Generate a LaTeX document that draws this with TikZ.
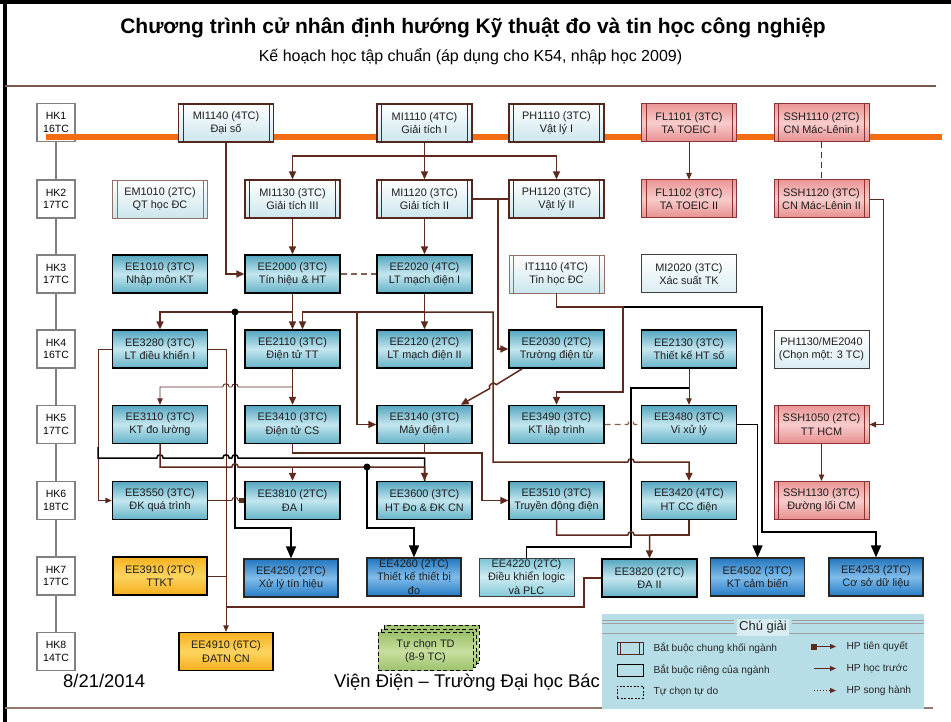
\documentclass[tikz,border=0pt]{standalone}
\usepackage{fontspec}
\setmainfont{Liberation Sans}
\usetikzlibrary{arrows.meta}

\definecolor{conn}{RGB}{94,42,30}
\definecolor{cmnbrd}{RGB}{84,38,28}
\definecolor{cmnlow}{RGB}{204,230,238}
\definecolor{pinkbrd}{RGB}{140,52,52}
\definecolor{pinktop}{RGB}{236,150,150}
\definecolor{pinkmid}{RGB}{248,204,204}
\definecolor{pinkbot}{RGB}{232,142,142}
\definecolor{tealtop}{RGB}{84,166,192}
\definecolor{tealmid}{RGB}{196,230,239}
\definecolor{tealbot}{RGB}{100,178,200}
\definecolor{bluetop}{RGB}{34,118,190}
\definecolor{bluemid}{RGB}{128,188,234}
\definecolor{bluebot}{RGB}{38,124,198}
\definecolor{plctop}{RGB}{122,196,213}
\definecolor{plcmid}{RGB}{208,236,243}
\definecolor{plcbot}{RGB}{132,202,217}
\definecolor{yeltop}{RGB}{247,178,32}
\definecolor{yelmid}{RGB}{252,212,96}
\definecolor{yelbot}{RGB}{246,174,28}
\definecolor{grntop}{RGB}{158,194,108}
\definecolor{grnmid}{RGB}{200,223,160}
\definecolor{legbg}{RGB}{183,222,231}
\definecolor{hkgray}{RGB}{128,128,128}
\definecolor{rulebrown}{RGB}{120,88,78}
\definecolor{sem}{RGB}{242,108,20}

% small bridge where a horizontal line crosses another one
\newcommand\hopR[2]{-- (#1-3.2,#2) to[out=90,in=90,looseness=1.7] (#1+3.2,#2)}
\newcommand\hopL[2]{-- (#1+3.2,#2) to[out=90,in=90,looseness=1.7] (#1-3.2,#2)}

\tikzset{
  course/.style={minimum width=95pt, minimum height=38pt, inner sep=0pt, align=center,
    font=\fontsize{10.9}{13.3}\selectfont, text={black!88}},
  dbl/.style={path picture={
      \draw[#1, line width=0.9pt]
        ([xshift=4.5pt]path picture bounding box.north west) -- ([xshift=4.5pt]path picture bounding box.south west)
        ([xshift=-4.5pt]path picture bounding box.north east) -- ([xshift=-4.5pt]path picture bounding box.south east);}},
  dblsmall/.style={path picture={
      \draw[#1, line width=0.8pt]
        ([xshift=3.2pt]path picture bounding box.north west) -- ([xshift=3.2pt]path picture bounding box.south west)
        ([xshift=-3.2pt]path picture bounding box.north east) -- ([xshift=-3.2pt]path picture bounding box.south east);}},
  common/.style={course, draw=cmnbrd, line width=1.4pt, top color=white, bottom color=cmnlow, dbl=cmnbrd},
  commonlt/.style={course, draw=cmnbrd!65, line width=0.8pt, top color=white, bottom color=cmnlow, dbl=cmnbrd!65},
  social/.style={course, draw=pinkbrd, line width=1pt, top color=pinktop, bottom color=pinkbot, middle color=pinkmid, dbl=pinkbrd},
  major/.style={course, draw=black, line width=1.4pt, top color=tealtop, bottom color=tealbot, middle color=tealmid},
  plainc/.style={course, draw=black!75, line width=1pt, top color=white, bottom color=cmnlow!70},
  adv/.style={course, minimum width=94pt, draw=black!85, line width=1.2pt, top color=bluetop, bottom color=bluebot, middle color=bluemid},
  plc/.style={course, draw=black!75, line width=1pt, top color=plctop, bottom color=plcbot, middle color=plcmid},
  yel/.style={course, minimum width=94pt, draw=black, line width=1.4pt, top color=yeltop, bottom color=yelbot, middle color=yelmid},
  elect/.style={course, draw=black, line width=1pt, dash pattern=on 4pt off 2.5pt, top color=grntop, bottom color=grntop, middle color=grnmid},
  hk/.style={draw=hkgray, line width=1.2pt, fill=white, minimum width=38pt, minimum height=38pt, inner sep=0pt,
    align=center, font=\fontsize{10.5}{12.5}\selectfont},
  cb/.style={draw=conn, line width=1.5pt},
  ct/.style={draw=conn, line width=0.9pt},
  cdash/.style={draw=conn!75, line width=1.2pt, dash pattern=on 6pt off 4pt},
  ar/.style={-{Triangle[length=8pt,width=7pt]}},
  art/.style={-{Triangle[length=6.5pt,width=5.5pt]}},
  bk/.style={draw=black, line width=1.5pt},
  bkar/.style={-{Triangle[length=12pt,width=10pt]}},
  legtext/.style={anchor=west, font=\fontsize{10.2}{12}\selectfont, text=black!85},
}

\begin{document}
\begin{tikzpicture}[x=1pt,y=-1pt]
\useasboundingbox (0,0) rectangle (951,722);
\fill[white] (0,0) rectangle (951,722);

% slide frame
\fill[black] (3,0) rectangle (7,722);
\fill[black] (0,0) rectangle (951,4);

% heading
\node[font=\bfseries\fontsize{21}{24}\selectfont] (title) at (473,28)
  {Chương trình cử nhân định hướng Kỹ thuật đo và tin học công nghiệp};
\node[font=\fontsize{16}{18}\selectfont] (subtitle) at (470.5,57)
  {Kế hoạch học tập chuẩn (áp dụng cho K54, nhập học 2009)};
\draw[rulebrown, line width=1.3pt] (5,86) -- (936,86);

% footer
\node[anchor=base west, font=\fontsize{18.4}{20}\selectfont, inner sep=0pt] (date) at (63,687) {8/21/2014};
\node[anchor=base west, font=\fontsize{18.4}{20}\selectfont, inner sep=0pt] (inst) at (334,687)
  {Viện Điện – Trường Đại học Bác};
\draw[rulebrown!80, line width=1.2pt] (5,708) -- (933,708);

% semester column
\node[hk] (hk1) at (56,122.5) {HK1\\16TC};
\node[hk] (hk2) at (56,199) {HK2\\17TC};
\node[hk] (hk3) at (56,274) {HK3\\17TC};
\node[hk] (hk4) at (56,349) {HK4\\16TC};
\node[hk] (hk5) at (56,424.5) {HK5\\17TC};
\node[hk] (hk6) at (56,500.5) {HK6\\18TC};
\node[hk] (hk7) at (56,576) {HK7\\17TC};
\node[hk] (hk8) at (56,651.5) {HK8\\14TC};
\draw[hkgray, line width=1.3pt] (hk1.south) -- (hk2.north) (hk2.south) -- (hk3.north) (hk3.south) -- (hk4.north)
  (hk4.south) -- (hk5.north) (hk5.south) -- (hk6.north) (hk6.south) -- (hk7.north) (hk7.south) -- (hk8.north);

% first-semester band
\draw[sem, line width=5.6pt] (46,137) -- (942,137);

% HK1
\node[common] (mi1140) at (226,123) {MI1140 (4TC)\\Đại số};
\node[common] (mi1110) at (424.5,123) {MI1110 (4TC)\\Giải tích I};
\node[common] (ph1110) at (556.5,123) {PH1110 (3TC)\\Vật lý I};
\node[social] (fl1101) at (689,123) {FL1101 (3TC)\\TA TOEIC I};
\node[social] (ssh1110) at (821.5,123) {SSH1110 (2TC)\\CN Mác-Lênin I};
% HK2
\node[commonlt] (em1010) at (160,199) {EM1010 (2TC)\\QT học ĐC};
\node[common] (mi1130) at (292.5,199) {MI1130 (3TC)\\Giải tích III};
\node[common] (mi1120) at (424.5,199) {MI1120 (3TC)\\Giải tích II};
\node[common] (ph1120) at (556.5,199) {PH1120 (3TC)\\Vật lý II};
\node[social] (fl1102) at (689,199) {FL1102 (3TC)\\TA TOEIC II};
\node[social] (ssh1120) at (821.5,199) {SSH1120 (3TC)\\CN Mác-Lênin II};
% HK3
\node[major] (ee1010) at (160,274) {EE1010 (3TC)\\Nhập môn KT};
\node[major] (ee2000) at (292.5,274) {EE2000 (3TC)\\Tín hiệu \& HT};
\node[major] (ee2020) at (424.5,274) {EE2020 (4TC)\\LT mạch điện I};
\node[commonlt] (it1110) at (556.5,274) {IT1110 (4TC)\\Tin học ĐC};
\node[plainc] (mi2020) at (689,274) {MI2020 (3TC)\\Xác suất TK};
% HK4
\node[major] (ee3280) at (160,349) {EE3280 (3TC)\\LT điều khiển I};
\node[major] (ee2110) at (292.5,349) {EE2110 (3TC)\\Điện tử TT};
\node[major] (ee2120) at (424.5,349) {EE2120 (2TC)\\LT mạch điện II};
\node[major] (ee2030) at (556.5,349) {EE2030 (2TC)\\Trường điện từ};
\node[major] (ee2130) at (689,349) {EE2130 (3TC)\\Thiết kế HT số};
\node[plainc] (ph1130) at (821.5,349) {PH1130/ME2040\\(Chọn một: 3 TC)};
% HK5
\node[major] (ee3110) at (160,424.5) {EE3110 (3TC)\\KT đo lường};
\node[major] (ee3410) at (292.5,424.5) {EE3410 (3TC)\\Điện tử CS};
\node[major] (ee3140) at (424.5,424.5) {EE3140 (3TC)\\Máy điện I};
\node[major] (ee3490) at (556.5,424.5) {EE3490 (3TC)\\KT lập trình};
\node[major] (ee3480) at (689,424.5) {EE3480 (3TC)\\Vi xử lý};
\node[social] (ssh1050) at (821.5,424.5) {SSH1050 (2TC)\\TT HCM};
% HK6
\node[major] (ee3550) at (160,500.5) {EE3550 (3TC)\\ĐK quá trình};
\node[major] (ee3810) at (292.5,500.5) {EE3810 (2TC)\\ĐA I};
\node[major] (ee3600) at (424.5,500.5) {EE3600 (3TC)\\HT Đo \& ĐK CN};
\node[major] (ee3510) at (556.5,500.5) {EE3510 (3TC)\\Truyền động điện};
\node[major] (ee3420) at (689,500.5) {EE3420 (4TC)\\HT CC điện};
\node[social] (ssh1130) at (821.5,500.5) {SSH1130 (3TC)\\Đường lối CM};
% HK7
\node[yel] (ee3910) at (160,576) {EE3910 (2TC)\\TTKT};
\node[adv] (ee4250) at (291,578) {EE4250 (2TC)\\Xử lý tín hiệu};
\node[adv] (ee4260) at (414,577) {EE4260 (2TC)\\Thiết kế thiết bị\\đo};
\node[plc] (ee4220) at (526.5,577) {EE4220 (2TC)\\Điều khiển logic\\và PLC};
\node[major] (ee3820) at (649.5,578) {EE3820 (2TC)\\ĐA II};
\node[adv] (ee4502) at (757.5,577) {EE4502 (3TC)\\KT cảm biến};
\node[adv] (ee4253) at (876,577) {EE4253 (2TC)\\Cơ sở dữ liệu};
% HK8
\node[yel] (ee4910) at (226,651.5) {EE4910 (6TC)\\ĐATN CN};
\node[elect] (el3) at (431.5,644.5) {};
\node[elect] (el2) at (428.5,648) {};
\node[elect] (el1) at (425.5,651.5) {Tự chọn TD\\(8-9 TC)};

% ---- connectors ----
\coordinate (jMI) at (424.5,156);
\draw[cb, ar] (mi1140.south) |- (ee2000.west);
\draw[cb, ar] (mi1110) -- (mi1120);
\draw[cb, ar] (jMI) -| (mi1130.north);
\draw[cb, ar] (jMI) -| (ph1120.north);
\draw[cb] (mi1120.east) -- (ph1120.west);
\coordinate (jPH) at (498,199);
\draw[cb, ar] (jPH) |- (ee2030.west);
\draw[cb, ar] (mi1130) -- (ee2000);
\draw[cb, ar] (mi1120) -- (ee2020);
\draw[cdash] (ee2000) -- (ee2020);

\draw[ct, art] (fl1101) -- (fl1102);
\draw[ct, dash pattern=on 6pt off 4pt] (ssh1110) -- (ssh1120);
\draw[ct, art] (ssh1120.east) -- (883,199) |- (ssh1050.east);
\draw[ct, art] (ssh1050) -- (ssh1130);

% from EE2000
\draw[cb, ar] (ee2000) -- (ee2110);
\coordinate (jS) at (292.5,312);
\draw[cb, ar] (jS) -| (ee3280.north);
\coordinate (jT) at (235,312);
\draw[bk, bkar] (jT) -- (235,528) -| (ee4250.north);
\fill[black] (jT) circle[radius=3.5];

% from EE2020
\draw[cb, ar] (ee2020) -- (ee2120);
\coordinate (jU) at (424.5,312);
\draw[cb, ar] (jU) -| ([xshift=10pt]ee2110.north);
\draw[cb, ar] (jU) -- (357,312) |- (ee3140.west);
\draw[cb, ar] (jU) -- (493,312) -- (493,462) \hopR{631}{462} -| (ee3420.north);

% from IT1110
\coordinate (jV) at (623,307);
\draw[bk, bkar] (jV) -- (762,307) -- (762,532) -| (ee4253.north);
\draw[cb, ar] (it1110.south) -- (556.5,307) -- (jV) -- (623,392) -| (ee3490.north);

% from EE2030
\draw[cb, ar] ([xshift=14pt]ee2030.south west) -- (496.4,384.6) to[bend right=90,looseness=1.4] (489.6,388.6)
  -- ([xshift=-12pt]ee3140.north east);

% from EE2130
\coordinate (jW) at (689,388);
\draw[bk, line width=1.2pt] (jW) -- (631,388) -- (631,547) -| (ee4220.north);
\draw[ct, art] (ee2130) -- (ee3480);

% from EE2110
\draw[cb, ar] (ee2110) -- (ee3410);
\coordinate (jX) at (292.5,387);
\draw[ct, art] (jX) \hopL{235}{387} \hopL{226}{387} -| (ee3110.north);

% from EE3280
\draw[ct, art] (ee3280.west) -- (98,349) |- (ee3550.west);
\draw[ct, art] (ee3280.east) -- (226,349) -- (ee4910.north);
\draw[ct] (ee3910.east) -- (226,576);
\draw[ct, line width=1.1pt] (ee3820.west) -- (584,578) |- (226,607);

% HK5 -> HK6
\draw[ct, -{Square[length=5pt,width=5pt]}] (ee3550.east) \hopR{235}{500.5} -- (ee3810.west);
\draw[cb, ar] (ee3410.south) -- (292.5,453) -- (482,453) |- (ee3510.west);
\draw[cb] (ee3140.south) -- (424.5,453);
\coordinate (jK) at (98,447);
\draw[bk] (jK) -- (98,458) \hopR{160}{458} \hopR{226}{458} \hopR{235}{458} -| (ee3600.north);
\draw[cb, ar] (ee3110.south) -- (160,467) \hopR{235}{467} -| (ee3600.north);
\coordinate (jY) at (292.5,467);
\draw[cb, ar] (jY) -- (ee3810.north);
\coordinate (jZ) at (367,467);
\draw[bk, bkar] (jZ) -- (367,528) -| (ee4260.north);
\fill[black] (jZ) circle[radius=3.5];
\draw[cdash] (ee3490.east) \hopR{631}{424.5} -- (ee3480.west);
\draw[bk, bkar] (ee3480.east) -| (ee4502.north);

% HK6 -> HK7
\draw[cb, ar] (ee3510.south) -- (556.5,535) \hopR{631}{535} -| (ee3820.north);
\draw[cb] (ee3420.south) -- (689,535) -- (649.5,535);

% ---- legend ----
\fill[legbg] (602,614) rectangle (924,709);
\draw[gray!75, line width=0.8pt] (602,620.5) -- (734,620.5) (602,623) -- (734,623)
  (792,620.5) -- (924,620.5) (792,623) -- (924,623);
\draw[gray!75, line width=0.8pt] (602,633.5) -- (924,633.5);
\node[font=\fontsize{13}{15}\selectfont, fill=legbg!55!white, inner sep=2pt, text=black!85] (legtitle) at (763,627.5) {Chú giải};

\node[draw=cmnbrd, line width=0.9pt, minimum width=26pt, minimum height=12pt, inner sep=0pt, fill=legbg, dblsmall=cmnbrd] (lgA) at (630,648) {};
\node[draw=black, line width=0.9pt, minimum width=26pt, minimum height=12pt, inner sep=0pt, fill=legbg] (lgB) at (630,670.5) {};
\node[draw=black, line width=0.8pt, dash pattern=on 2pt off 1.5pt, minimum width=26pt, minimum height=12pt, inner sep=0pt, fill=legbg] (lgC) at (630,692) {};
\node[legtext] (lgAt) at (650,648) {Bắt buộc chung khối ngành};
\node[legtext] (lgBt) at (650,670.5) {Bắt buộc riêng của ngành};
\node[legtext] (lgCt) at (650,692) {Tự chọn tự do};

\coordinate (lgS1) at (817,646.5); \coordinate (lgE1) at (836,646.5);
\coordinate (lgS2) at (814,668.5); \coordinate (lgE2) at (836,668.5);
\coordinate (lgS3) at (814,690.5); \coordinate (lgE3) at (836,690.5);
\fill[conn] (811,643.5) rectangle (817,649.5);
\draw[conn, line width=1.1pt, -{Triangle[length=6pt,width=5pt]}] (lgS1) -- (lgE1);
\draw[conn, line width=1pt, -{Triangle[length=6pt,width=5pt]}] (lgS2) -- (lgE2);
\draw[conn, line width=1pt, dotted, -{Triangle[length=6pt,width=5pt]}] (lgS3) -- (lgE3);
\node[legtext] (lgDt) at (843,646.5) {HP tiên quyết};
\node[legtext] (lgEt) at (843,668.5) {HP học trước};
\node[legtext] (lgFt) at (843,690.5) {HP song hành};
\end{tikzpicture}
\end{document}
